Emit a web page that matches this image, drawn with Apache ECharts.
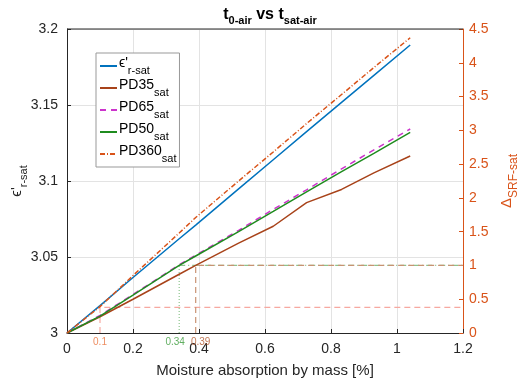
<!DOCTYPE html>
<html>
<head>
<meta charset="utf-8">
<script src="https://cdn.jsdelivr.net/npm/echarts@6/dist/echarts.min.js"></script>
<style>
  html, body { margin: 0; padding: 0; background: #fff; }
  #chart { width: 518px; height: 382px; }
</style>
</head>
<body>
<div id="chart"></div>
<script>
// Moisture absorption by mass [%] at which each curve was sampled
const massPct = [0, 0.1, 0.2, 0.34, 0.39, 0.52, 0.625, 0.726, 0.832, 0.93, 1.04];

// Left axis: saturated relative permittivity
const epsRSat = [3, 3.018, 3.0365, 3.062, 3.071, 3.0948, 3.114, 3.1325, 3.1517, 3.1695, 3.1895];

// Right axis: shift in self-resonant frequency
const pd35Sat  = [0, 0.24, 0.50, 0.87, 1.00, 1.33, 1.58, 1.93, 2.125, 2.37, 2.62];
const pd65Sat  = [0, 0.26, 0.57, 1.01, 1.15, 1.52, 1.83, 2.12, 2.43, 2.71, 3.02];
const pd50Sat  = [0, 0.25, 0.56, 1.00, 1.14, 1.50, 1.80, 2.09, 2.39, 2.66, 2.97];
const pd360Sat = [0, 0.39, 0.85, 1.48, 1.71, 2.25, 2.68, 3.10, 3.53, 3.93, 4.37];

// Threshold markers
const thrPd360 = { x: 0.1,  y: 0.38, label: '0.1' };
const thrPd50  = { x: 0.34, y: 1,    label: '0.34' };
const thrPd35  = { x: 0.39, y: 1,    label: '0.39' };
const xMax = 1.2;

const xTicks = { min: 0, max: 1.2, interval: 0.2 };
const yLeftTicks = { min: 3, max: 3.2, interval: 0.05 };
const yRightTicks = { min: 0, max: 4.5, interval: 0.5 };

const legendSub = {
  "ϵ'r-sat": ["ϵ'", 'r-sat'],
  'PD35sat': ['PD35', 'sat'],
  'PD65sat': ['PD65', 'sat'],
  'PD50sat': ['PD50', 'sat'],
  'PD360sat': ['PD360', 'sat']
};

const pair = (xs, ys) => xs.map((x, i) => [x, ys[i]]);
const FONT = 'Liberation Sans, Arial, Helvetica, sans-serif';
const ORANGE = '#D95319';
const AXIS = '#262626';

const chart = echarts.init(document.getElementById('chart'), null, { renderer: 'canvas' });

function lineSeries(name, data, color, type, yAxisIndex, width) {
  return {
    name, type: 'line', data, yAxisIndex, symbol: 'none', silent: true,
    lineStyle: { color, width: width || 1.5, type: type || 'solid' },
    itemStyle: { color }, z: 5, animation: false
  };
}

function refLine(data, color, type) {
  return {
    type: 'line', data, yAxisIndex: 1, symbol: 'none', silent: true,
    lineStyle: { color, width: 1.2, type }, z: 3, animation: false
  };
}

function refLabel(t, color, dx) {
  return {
    type: 'scatter', yAxisIndex: 1, symbolSize: 0, silent: true, animation: false,
    data: [[t.x, 0]],
    label: {
      show: true, position: 'bottom', distance: 4, offset: [dx, 0], formatter: t.label,
      color, fontSize: 10, fontFamily: FONT
    }
  };
}

chart.setOption({
  animation: false,
  backgroundColor: '#fff',
  title: {
    text: '{b|t}{s|0-air}{b| vs t}{s|sat-air}',
    left: 265, top: 2, textAlign: 'center',
    textStyle: {
      rich: {
        b: { fontSize: 16, fontWeight: 'bold', color: '#000', fontFamily: FONT, lineHeight: 18, verticalAlign: 'top' },
        s: { fontSize: 11, fontWeight: 'bold', color: '#000', fontFamily: FONT, padding: [8, 0, 0, 0], verticalAlign: 'top' }
      }
    }
  },
  grid: { left: 67, right: 55, top: 29, bottom: 49, outerBoundsMode: 'none', containLabel: false },
  legend: {
    orient: 'vertical', left: 96, top: 53,
    data: Object.keys(legendSub),
    backgroundColor: '#fff', borderColor: '#999', borderWidth: 1,
    padding: [3, 3, 3, 3], itemGap: 2, itemWidth: 17, itemHeight: 14,
    itemStyle: { opacity: 0 },
    formatter: n => '{m|' + legendSub[n][0] + '}{s|' + legendSub[n][1] + '}',
    textStyle: {
      rich: {
        m: { fontSize: 14, color: '#000', fontFamily: FONT, lineHeight: 20, verticalAlign: 'top', padding: [0, 0, 0, -3] },
        s: { fontSize: 11, color: '#000', fontFamily: FONT, padding: [9, 0, 0, 0], verticalAlign: 'top' }
      }
    }
  },
  xAxis: {
    type: 'value', min: xTicks.min, max: xTicks.max, interval: xTicks.interval,
    name: 'Moisture absorption by mass [%]', nameLocation: 'middle', nameGap: 30,
    nameTextStyle: { fontSize: 15, color: AXIS, fontFamily: FONT },
    axisLine: { onZero: false, lineStyle: { color: AXIS, width: 1 } },
    axisTick: { inside: true, length: 4, lineStyle: { color: AXIS } },
    axisLabel: { fontSize: 14, color: AXIS, fontFamily: FONT, margin: 9 },
    splitLine: { show: true, lineStyle: { color: '#e3e3e3', width: 1 } }
  },
  yAxis: [
    {
      type: 'value', min: yLeftTicks.min, max: yLeftTicks.max, interval: yLeftTicks.interval,
      position: 'left',
      name: "{m|ϵ'}{s|r-sat}", nameLocation: 'middle', nameGap: 38, nameRotate: 90,
      nameMoveOverlap: false,
      nameTextStyle: {
        rich: {
          m: { fontSize: 15, color: AXIS, fontFamily: FONT, lineHeight: 18, verticalAlign: 'top' },
          s: { fontSize: 11, color: AXIS, fontFamily: FONT, padding: [9, 0, 0, 0], verticalAlign: 'top' }
        }
      },
      axisLine: { show: true, lineStyle: { color: AXIS, width: 1 } },
      axisTick: { show: true, inside: true, length: 4, lineStyle: { color: AXIS } },
      axisLabel: { fontSize: 14, color: AXIS, fontFamily: FONT, margin: 9, formatter: v => String(+v.toFixed(2)) },
      splitLine: { show: true, lineStyle: { color: '#e3e3e3', width: 1 } }
    },
    {
      type: 'value', min: yRightTicks.min, max: yRightTicks.max, interval: yRightTicks.interval,
      position: 'right',
      name: '{m|Δ}{s|SRF-sat}', nameLocation: 'middle', nameGap: 31, nameRotate: 90,
      nameTextStyle: {
        rich: {
          m: { fontSize: 15, color: ORANGE, fontFamily: FONT, lineHeight: 18, verticalAlign: 'top' },
          s: { fontSize: 12, color: ORANGE, fontFamily: FONT, padding: [8, 0, 0, 0], verticalAlign: 'top' }
        }
      },
      axisLine: { show: true, lineStyle: { color: ORANGE, width: 1 } },
      axisTick: { show: true, inside: true, length: 4, lineStyle: { color: ORANGE } },
      axisLabel: { fontSize: 14, color: ORANGE, fontFamily: FONT, margin: 6 },
      splitLine: { show: false }
    }
  ],
  graphic: [
    // top frame edge of the axes box
    { type: 'line', shape: { x1: 67, y1: 29, x2: 463, y2: 29 }, style: { stroke: AXIS, lineWidth: 1 }, silent: true, z: 10 }
  ],
  series: [
    // reference (threshold) lines
    refLine([[thrPd360.x, 0], [thrPd360.x, thrPd360.y], [xMax, thrPd360.y]], '#F6A8A0', [6, 4]),
    refLine([[thrPd50.x, 0], [thrPd50.x, thrPd50.y]], '#8CC48C', [1, 2]),
    refLine([[thrPd50.x, thrPd50.y], [xMax, thrPd50.y]], '#8CC48C', [6, 3, 1, 3]),
    refLine([[thrPd35.x, 0], [thrPd35.x, thrPd35.y], [xMax, thrPd35.y]], '#C89272', [6, 4]),
    refLabel(thrPd360, '#E8703A', 0),
    refLabel(thrPd50, '#3A9A3A', -4),
    refLabel(thrPd35, '#B0552A', 5),
    lineSeries("ϵ'r-sat", pair(massPct, epsRSat), '#0072BD', 'solid', 0),
    lineSeries('PD35sat', pair(massPct, pd35Sat), '#A8431A', 'solid', 1),
    lineSeries('PD65sat', pair(massPct, pd65Sat), '#CC33CC', [6, 5], 1),
    lineSeries('PD50sat', pair(massPct, pd50Sat), '#1F8C1F', 'solid', 1),
    lineSeries('PD360sat', pair(massPct, pd360Sat), ORANGE, [5, 2, 1, 2], 1)
  ]
});
</script>
</body>
</html>
